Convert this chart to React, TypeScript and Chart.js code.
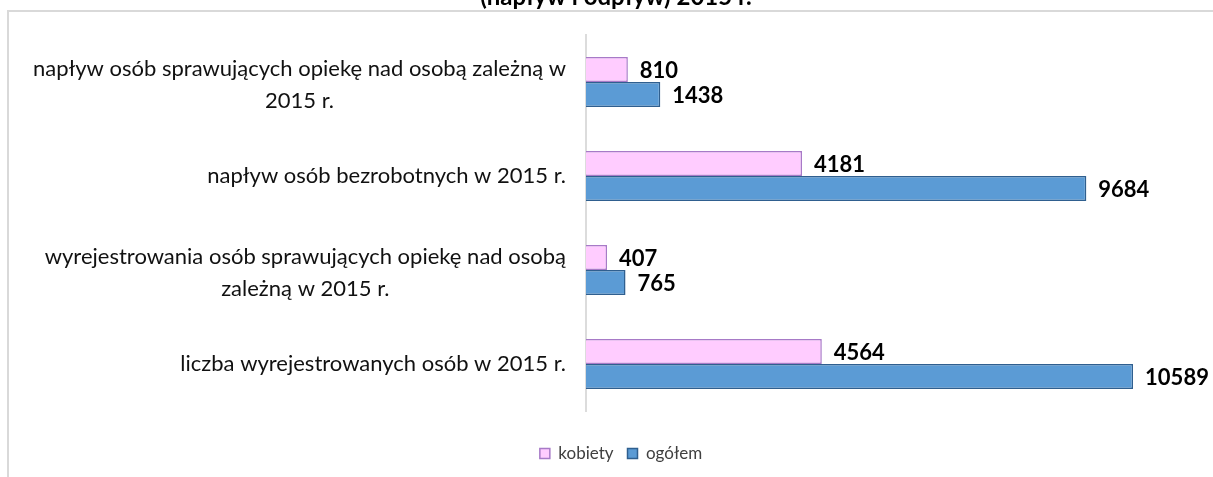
import React, { useEffect, useRef } from "react";
import { Chart, registerables } from "chart.js";

Chart.register(...registerables);

const categories: string[][] = [
  ["napływ osób sprawujących opiekę nad osobą zależną w", "2015 r."],
  ["napływ osób bezrobotnych w 2015 r."],
  ["wyrejestrowania osób sprawujących opiekę nad osobą", "zależną w 2015 r."],
  ["liczba wyrejestrowanych osób w 2015 r."],
];
const kobiety: number[] = [810, 4181, 407, 4564];
const ogolem: number[] = [1438, 9684, 765, 10589];
const seriesNames: string[] = ["kobiety", "ogółem"];
const titleText = "(napływ i odpływ) 2015 r.";

const FONT = "Lato, 'Noto Sans', sans-serif";

const framePlugin = {
  id: "frame",
  beforeDraw(chart: any) {
    const ctx = chart.ctx;
    ctx.save();
    ctx.strokeStyle = "#d9d9d9";
    ctx.lineWidth = 2;
    ctx.beginPath();
    ctx.moveTo(7, 11);
    ctx.lineTo(chart.width, 11);
    ctx.moveTo(8, 10);
    ctx.lineTo(8, chart.height);
    ctx.stroke();
    // clipped title (only its lower part is visible)
    ctx.fillStyle = "#000";
    ctx.font = `bold 24px ${FONT}`;
    ctx.textAlign = "center";
    ctx.textBaseline = "alphabetic";
    ctx.fillText(titleText, 616, 5);
    ctx.restore();
  },
};

const labelsPlugin = {
  id: "catLabels",
  afterDraw(chart: any) {
    const ctx = chart.ctx;
    const yScale = chart.scales.y;
    ctx.save();
    ctx.font = `22px ${FONT}`;
    ctx.fillStyle = "#111";
    ctx.textAlign = "center";
    ctx.textBaseline = "middle";
    const rightEdge = 566;
    const lineH = 32;
    categories.forEach((lines, i) => {
      const cy = yScale.getPixelForValue(i);
      const w = Math.max(...lines.map((l) => ctx.measureText(l).width));
      const cx = rightEdge - w / 2;
      const offset = lines.length > 1 ? 3 : 0;
      lines.forEach((l, j) => {
        const y = cy + offset + (j - (lines.length - 1) / 2) * lineH;
        ctx.fillText(l, cx, y);
      });
    });
    // value labels
    ctx.font = `bold 22px ${FONT}`;
    ctx.fillStyle = "#000";
    ctx.textAlign = "left";
    chart.data.datasets.forEach((ds: any, di: number) => {
      const meta = chart.getDatasetMeta(di);
      meta.data.forEach((bar: any, i: number) => {
        ctx.fillText(String(ds.data[i]), bar.x + 12, bar.y + 1);
      });
    });
    ctx.restore();
  },
};

export default function App() {
  const ref = useRef<HTMLCanvasElement | null>(null);
  useEffect(() => {
    if (!ref.current) return;
    const chart = new Chart(ref.current, {
      type: "bar",
      data: {
        labels: categories.map((c) => c.join(" ")),
        datasets: [
          {
            label: seriesNames[0],
            data: kobiety,
            backgroundColor: "#ffccff",
            borderColor: "#a77ac7",
            borderWidth: 1.5,
            categoryPercentage: 0.532,
            barPercentage: 1,
          },
          {
            label: seriesNames[1],
            data: ogolem,
            backgroundColor: "#5b9bd5",
            borderColor: "#2f5f8f",
            borderWidth: 1.5,
            categoryPercentage: 0.532,
            barPercentage: 1,
          },
        ],
      },
      options: {
        indexAxis: "y",
        responsive: false,
        animation: false,
        devicePixelRatio: 1,
        layout: { padding: { left: 36, right: 7, top: 35, bottom: 5 } },
        scales: {
          x: {
            min: 0,
            max: 12000,
            grid: { display: false },
            border: { display: false },
            ticks: { display: false },
            afterFit: (s: any) => {
              s.height = 20;
            },
          },
          y: {
            grid: { display: false },
            border: { display: true, color: "#dcdcdc", width: 2 },
            ticks: { display: false },
            afterFit: (s: any) => {
              s.width = 550;
            },
          },
        },
        plugins: {
          legend: {
            position: "bottom",
            labels: {
              boxWidth: 10,
              boxHeight: 10,
              padding: 14,
              color: "#404040",
              font: { family: FONT, size: 17 },
            },
          },
          title: { display: false },
          tooltip: { enabled: false },
        },
      },
      plugins: [framePlugin, labelsPlugin],
    });
    return () => chart.destroy();
  }, []);
  return (
    <div style={{ position: "fixed", left: 0, top: 0, width: 1213, height: 477, background: "#fff" }}>
      <canvas ref={ref} width={1213} height={477} style={{ width: 1213, height: 477 }} />
    </div>
  );
}
